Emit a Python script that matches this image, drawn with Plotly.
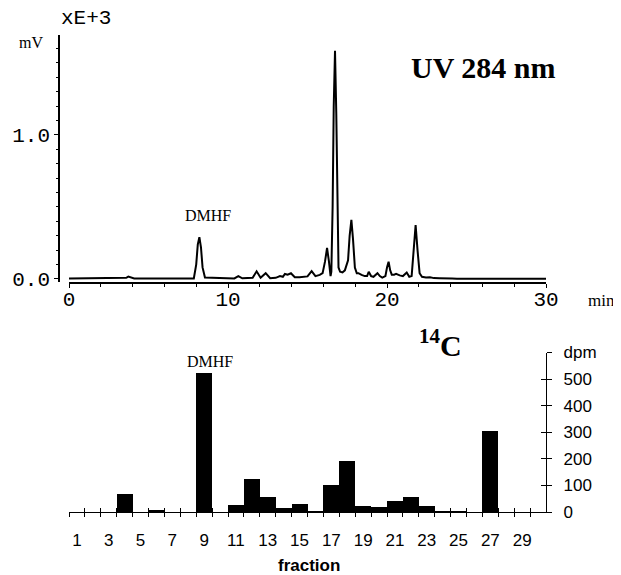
import plotly.graph_objects as go

# --- UV 284 nm chromatogram (time in min, signal in mV x 1000) ---
time_min = [0.0, 3.4, 3.6, 3.73, 3.9, 4.1, 7.85, 8.0, 8.1, 8.2, 8.3, 8.4, 8.55, 10.4, 10.65, 10.9,
            11.55, 11.8, 12.05, 12.37, 12.65, 13.0, 13.27, 13.45, 13.58, 13.75, 13.96, 14.2, 14.5,
            14.74, 15.0, 15.26, 15.5, 15.77, 15.95, 16.1, 16.23, 16.35, 16.45, 16.5, 16.58, 16.65,
            16.73, 16.81, 16.88, 16.95, 17.05, 17.2, 17.35, 17.46, 17.55, 17.65, 17.76, 17.86, 17.98,
            18.1, 18.2, 18.4, 18.6, 18.75, 18.85, 19.0, 19.15, 19.4, 19.55, 19.7, 19.9, 20.0, 20.1,
            20.2, 20.3, 20.45, 20.57, 20.8, 21.0, 21.24, 21.4, 21.55, 21.65, 21.8, 21.92, 22.05,
            22.2, 22.45, 22.7, 22.95, 23.3, 23.6, 23.86, 24.1, 24.4, 30.0]
signal_e3 = [0.003, 0.003, 0.008, 0.016, 0.008, 0.003, 0.003, 0.1, 0.24, 0.29, 0.22, 0.08, 0.01, 0.004, 0.02, 0.005,
             0.008, 0.053, 0.008, 0.04, 0.005, 0.008, 0.02, 0.015, 0.035, 0.03, 0.04, 0.012, 0.012,
             0.015, 0.018, 0.055, 0.02, 0.028, 0.04, 0.12, 0.215, 0.12, 0.02, 0.05, 0.5, 1.2,
             1.585, 1.15, 0.45, 0.08, 0.05, 0.045, 0.06, 0.1, 0.13, 0.3, 0.41, 0.28, 0.08,
             0.04, 0.04, 0.028, 0.02, 0.02, 0.05, 0.02, 0.015, 0.04, 0.02, 0.01, 0.02, 0.08, 0.12,
             0.06, 0.03, 0.03, 0.035, 0.025, 0.02, 0.045, 0.015, 0.02, 0.15, 0.375, 0.2, 0.04,
             0.015, 0.01, 0.012, 0.006, 0.005, 0.006, 0.008, 0.004, 0.002, 0.002]
time_ticks = [0, 10, 20, 30]
uv_ticks = [0.0, 1.0]
uv_tick_labels = ["0.0", "1.0"]

# --- 14C radioactivity per fraction (dpm) ---
fractions = list(range(1, 31))
dpm = [0, 0, 0, 69, 0, 10, 0, 0, 523, 0, 29, 126, 57, 17, 32, 6, 103, 195, 26, 21,
       44, 60, 24, 5, 4, 0, 305, 0, 0, 0]
fraction_labels = [str(f) for f in fractions if f % 2 == 1]
dpm_ticks = [0, 100, 200, 300, 400, 500, 600]
dpm_tick_labels = ["0", "100", "200", "300", "400", "500", "dpm"]

W, H = 621, 575
OFF = 8  # default page body margin
def px(x):
    return (x - OFF) / W
def py(y):
    return 1 - (y - OFF) / H

SERIF = "Liberation Serif"
MONO = "Liberation Mono"
SANS = "Liberation Sans"

fig = go.Figure()
fig.add_trace(go.Scatter(x=time_min, y=signal_e3, mode="lines",
                         line=dict(color="black", width=2), xaxis="x", yaxis="y",
                         showlegend=False, hoverinfo="skip"))
fig.add_trace(go.Bar(x=[f - 0.5 for f in fractions], y=dpm, width=1.0,
                     marker=dict(color="black", line=dict(width=0)),
                     xaxis="x2", yaxis="y2", showlegend=False))
# empty traces to register overlay axes for crossing ticks
fig.add_trace(go.Scatter(x=[None], y=[None], xaxis="x3", yaxis="y2", showlegend=False))
fig.add_trace(go.Scatter(x=[None], y=[None], xaxis="x4", yaxis="y2", showlegend=False))
fig.add_trace(go.Scatter(x=[None], y=[None], xaxis="x2", yaxis="y3", showlegend=False))

xdom = [px(69), px(546)]
top_dom = [py(282), py(35)]
bot_dom = [py(512), py(352.5)]

fig.update_layout(
    width=W, height=H,
    margin=dict(l=0, r=0, t=0, b=0, autoexpand=False),
    paper_bgcolor="white", plot_bgcolor="white",
    bargap=0, showlegend=False,
    xaxis=dict(domain=xdom, anchor="y", range=[0, 30], tickvals=time_ticks, automargin=False,
               showline=True, linecolor="black", linewidth=1.5, showgrid=False, zeroline=False,
               ticks="outside", ticklen=4, tickcolor="black", ticklabelstandoff=-7,
               minor=dict(dtick=2, ticks="outside", ticklen=3, tickcolor="black"),
               tickfont=dict(family=MONO, size=21, color="black")),
    yaxis=dict(domain=top_dom, anchor="free", position=px(59), range=[-0.021, 1.694],
               tickvals=uv_ticks, ticktext=uv_tick_labels, automargin=False,
               showline=True, linecolor="black", linewidth=1.5, showgrid=False, zeroline=False,
               ticks="outside", ticklen=4, tickcolor="black",
               minor=dict(dtick=0.1, ticks="outside", ticklen=2, tickcolor="black"),
               tickfont=dict(family=MONO, size=21, color="black")),
    xaxis2=dict(domain=xdom, anchor="y2", range=[0, 30], automargin=False,
                tickvals=[f - 0.5 for f in fractions if f % 2 == 1], ticktext=fraction_labels,
                showline=True, linecolor="black", linewidth=1.2, showgrid=False, zeroline=False,
                ticks="", ticklabelstandoff=12,
                tickfont=dict(family=SANS, size=17, color="black")),
    xaxis3=dict(domain=xdom, anchor="y2", overlaying="x2", range=[0, 30], automargin=False,
                tickvals=list(range(0, 30)), showticklabels=False, showline=False,
                showgrid=False, zeroline=False, ticks="outside", ticklen=4, tickcolor="black"),
    xaxis4=dict(domain=xdom, anchor="y2", overlaying="x2", range=[0, 30], automargin=False,
                tickvals=list(range(0, 30)), showticklabels=False, showline=False,
                showgrid=False, zeroline=False, ticks="inside", ticklen=4, tickcolor="black"),
    yaxis2=dict(domain=bot_dom, anchor="x2", side="right", range=[0, 600], automargin=False,
                tickvals=dpm_ticks, ticktext=dpm_tick_labels,
                showline=True, linecolor="black", linewidth=1.2, showgrid=False, zeroline=False,
                ticks="outside", ticklen=5, tickcolor="black", ticklabelstandoff=8,
                tickfont=dict(family=SANS, size=17, color="black")),
    yaxis3=dict(domain=bot_dom, anchor="x2", side="right", overlaying="y2", range=[0, 600],
                automargin=False,
                tickvals=dpm_ticks, showticklabels=False, showline=False,
                showgrid=False, zeroline=False, ticks="inside", ticklen=5, tickcolor="black"),
)

ann = [
    dict(text="xE+3", x=px(59), y=py(18), xanchor="left", yanchor="middle",
         font=dict(family=MONO, size=21, color="black")),
    dict(text="mV", x=px(31), y=py(42), xanchor="center", yanchor="middle",
         font=dict(family=SERIF, size=16, color="black")),
    dict(text="<b>UV 284 nm</b>", x=px(483), y=py(68), xanchor="center", yanchor="middle",
         font=dict(family=SERIF, size=30, color="black")),
    dict(text="min", x=px(586), y=py(300), xanchor="left", yanchor="middle",
         font=dict(family=SERIF, size=17, color="black")),
    dict(text="DMHF", x=px(208), y=py(216), xanchor="center", yanchor="middle",
         font=dict(family=SERIF, size=16, color="black")),
    dict(text="DMHF", x=px(210), y=py(361), xanchor="center", yanchor="middle",
         font=dict(family=SERIF, size=16, color="black")),
    dict(text="<b><sup>14</sup>C</b>", x=px(440), y=py(343), xanchor="center", yanchor="middle",
         font=dict(family=SERIF, size=30, color="black")),
    dict(text="<b>fraction</b>", x=px(309), y=py(565), xanchor="center", yanchor="middle",
         font=dict(family=SANS, size=17, color="black")),
]
for a in ann:
    a.update(xref="paper", yref="paper", showarrow=False)
fig.update_layout(annotations=ann)

fig.write_html("out.html")
